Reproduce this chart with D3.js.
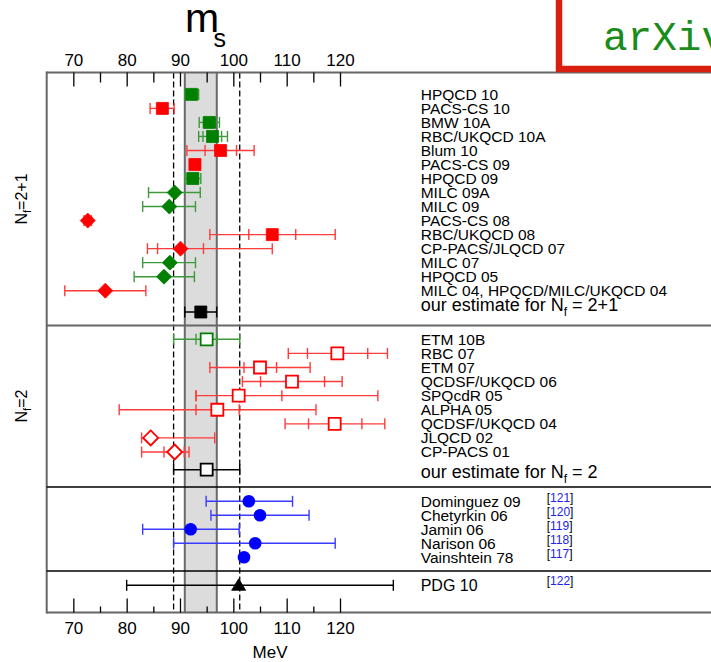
<!DOCTYPE html>
<html>
<head>
<meta charset="utf-8">
<script src="https://cdn.jsdelivr.net/npm/d3@7/dist/d3.min.js"></script>
<style>
body { margin: 0; background: #fff; }
svg { display: block; font-family: "Liberation Sans", Arial, sans-serif; }
</style>
</head>
<body>
<script>
// ---- data (MeV) ----
// N_f = 2+1 lattice results
var nf21Labels = ["HPQCD 10", "PACS-CS 10", "BMW 10A", "RBC/UKQCD 10A", "Blum 10", "PACS-CS 09",
    "HPQCD 09", "MILC 09A", "MILC 09", "PACS-CS 08", "RBC/UKQCD 08", "CP-PACS/JLQCD 07",
    "MILC 07", "HPQCD 05", "MILC 04, HPQCD/MILC/UKQCD 04"];
var nf21Values = [92.2, 86.7, 95.5, 96.1, 97.6, 92.8, 92.4, 89.0, 88.0, 72.7, 107.3, 90.1, 88.1, 87.0, 76.0];
var nf21Inner = [null, null, [94.4, 96.6], [94.3, 97.8], [94.7, 100.6], [92.2, 93.3], [91.4, 93.4], null, null,
    null, [102.9, 111.7], [85.8, 94.4], null, null, null];
var nf21Outer = [[90.9, 93.5], [84.4, 88.9], [93.6, 97.4], [93.5, 98.9], [91.3, 103.9], [91.8, 93.7], [90.9, 93.9],
    [84.1, 93.8], [83.0, 92.9], [72.0, 73.4], [95.6, 119.1], [83.9, 107.3], [83.0, 92.9], [81.4, 92.7], [68.4, 83.6]];
var nf21Flag = ["g", "r", "g", "g", "r", "r", "g", "g", "g", "r", "r", "r", "g", "g", "r"];
var nf21Marker = ["s", "s", "s", "s", "s", "s", "s", "d", "d", "d", "s", "d", "d", "d", "d"];
var est21 = { value: 93.9, range: [90.9, 96.9] };

// N_f = 2 lattice results (open symbols)
var nf2Labels = ["ETM 10B", "RBC 07", "ETM 07", "QCDSF/UKQCD 06", "SPQcdR 05", "ALPHA 05",
    "QCDSF/UKQCD 04", "JLQCD 02", "CP-PACS 01"];
var nf2Values = [95.0, 119.5, 105.0, 111.0, 101.0, 97.0, 119.0, 84.5, 89.0];
var nf2Inner = [[93.0, 97.0], [113.9, 125.2], [102.0, 108.1], [105.1, 117.1], [93.0, 109.1], [93.0, 101.1],
    [114.1, 124.1], null, [87.0, 90.8]];
var nf2Outer = [[88.8, 101.2], [110.3, 128.9], [95.6, 114.4], [101.7, 120.4], [93.0, 127.1], [78.6, 115.5],
    [109.7, 128.4], [82.8, 96.5], [82.8, 91.7]];
var nf2Flag = ["g", "r", "r", "r", "r", "r", "r", "r", "r"];
var nf2Marker = ["s", "s", "s", "s", "s", "s", "s", "d", "d"];
var est2 = { value: 95.0, range: [88.8, 101.2] };

// phenomenology (sum rules)
var phenoLabels = ["Dominguez 09", "Chetyrkin 06", "Jamin 06", "Narison 06", "Vainshtein 78"];
var phenoRefs = ["121", "120", "119", "118", "117"];
var phenoValues = [102.9, 105.0, 92.0, 104.1, 102.0];
var phenoRange = [[94.9, 111.1], [95.8, 114.2], [83.0, 101.1], [88.8, 119.1], null];

// PDG
var pdgLabel = "PDG 10", pdgRef = "122";
var pdgValue = 101.0, pdgRange = [80, 130];

// tick values
var majorTicks = [70, 80, 90, 100, 110, 120];
var minorTicks = [75, 85, 95, 105, 115];

// ---- layout ----
var width = 711, height = 662;
var frameTop = 72.5, frameBottom = 612.5, frameLeft = 46.7;
var sep1 = 325.5, sep2 = 487, sep3 = 571;
var labelX = 420.7, refX = 546.7;

var colors = { g: "#008000", r: "#ff0000", b: "#0000ff", k: "#000000" };
var barColors = { g: "#3c9a3c", r: "#ff3b3b", b: "#3b3bff", k: "#000000" };

var svg = d3.select("body").append("svg")
    .attr("width", width)
    .attr("height", height);

var x = d3.scaleLinear().domain([70, 120]).range([73.33, 340]);

// row position scales for each block
var y21 = d3.scaleLinear().domain([0, 14]).range([94.4, 290.7]);
var y2 = d3.scaleLinear().domain([0, 8]).range([339.3, 452]);
var yPh = d3.scaleLinear().domain([0, 4]).range([501.3, 557.3]);
var est21Y = 312, est2Y = 469.7, pdgY = 585.3;

// estimate band and dashed N_f=2 range
svg.append("rect")
    .attr("x", x(est21.range[0]))
    .attr("y", frameTop)
    .attr("width", x(est21.range[1]) - x(est21.range[0]))
    .attr("height", frameBottom - frameTop)
    .attr("fill", "#dcdcdc");
svg.selectAll(".bandEdge")
    .data(est21.range)
    .enter().append("line")
    .attr("x1", d => x(d)).attr("x2", d => x(d))
    .attr("y1", frameTop).attr("y2", frameBottom)
    .attr("stroke", "#6a6a6a").attr("stroke-width", 2);
svg.selectAll(".dash")
    .data(est2.range)
    .enter().append("line")
    .attr("x1", d => x(d)).attr("x2", d => x(d))
    .attr("y1", frameTop).attr("y2", frameBottom)
    .attr("stroke", "#000").attr("stroke-width", 1.3)
    .attr("stroke-dasharray", "6,3");

// frame and separators
function hline(yy, col, w) {
    svg.append("line")
        .attr("x1", frameLeft).attr("x2", width)
        .attr("y1", yy).attr("y2", yy)
        .attr("stroke", col).attr("stroke-width", w);
}
svg.append("line")
    .attr("x1", frameLeft).attr("x2", frameLeft)
    .attr("y1", frameTop - 1).attr("y2", frameBottom + 1)
    .attr("stroke", "#666").attr("stroke-width", 2);
hline(frameTop, "#666", 2);
hline(sep1, "#666", 2);
hline(sep2, "#000", 1.3);
hline(sep3, "#000", 1.3);
hline(frameBottom, "#666", 2);

// axes, ticks pointing inwards
var topAxis = d3.axisTop(x).tickValues(majorTicks).tickSizeInner(-14).tickSizeOuter(0).tickPadding(7);
var topMinor = d3.axisTop(x).tickValues(minorTicks).tickFormat("").tickSizeInner(-10).tickSizeOuter(0);
var botAxis = d3.axisBottom(x).tickValues(majorTicks).tickSizeInner(-14).tickSizeOuter(0).tickPadding(9.5);
var botMinor = d3.axisBottom(x).tickValues(minorTicks).tickFormat("").tickSizeInner(-6).tickSizeOuter(0);

[[topAxis, frameTop], [topMinor, frameTop], [botAxis, frameBottom], [botMinor, frameBottom]].forEach(function(a) {
    var g = svg.append("g")
        .attr("transform", "translate(0," + a[1] + ")")
        .call(a[0]);
    g.select(".domain").remove();
    g.selectAll("line").attr("stroke", "#000").attr("stroke-width", 1.3);
    g.selectAll("text")
        .attr("font-family", "Liberation Sans, Arial, sans-serif")
        .attr("font-size", 17)
        .attr("fill", "#000");
});

// title and axis label
var title = svg.append("text").attr("x", 185).attr("y", 32.3).attr("font-size", 41);
title.append("tspan").text("m");
svg.append("text").attr("x", 213.5).attr("y", 46.7).attr("font-size", 25).text("s");
svg.append("text")
    .attr("x", 270).attr("y", 658)
    .attr("text-anchor", "middle")
    .attr("font-size", 17)
    .text("MeV");

// rotated block labels
function blockLabel(cy, txt) {
    var t = svg.append("text")
        .attr("transform", "translate(27," + cy + ") rotate(-90)")
        .attr("text-anchor", "middle")
        .attr("font-size", 16);
    t.append("tspan").text("N");
    t.append("tspan").attr("font-size", 11).attr("dy", 4).text("f");
    t.append("tspan").attr("dy", -4).text(txt);
}
blockLabel(199, "=2+1");
blockLabel(406, "=2");

// ---- marks ----
function markerPath(type, cx, cy) {
    if (type === "s") {
        var h = 6;
        return "M" + (cx - h) + "," + (cy - h) + "h" + 2 * h + "v" + 2 * h + "h" + (-2 * h) + "Z";
    }
    if (type === "d") {
        var r = 7.5;
        return "M" + cx + "," + (cy - r) + "L" + (cx + r) + "," + cy + "L" + cx + "," + (cy + r) + "L" + (cx - r) + "," + cy + "Z";
    }
    if (type === "t") {
        return "M" + cx + "," + (cy - 6.5) + "L" + (cx + 7) + "," + (cy + 5) + "L" + (cx - 7) + "," + (cy + 5) + "Z";
    }
}

function errorBar(g, cy, inner, outer, col) {
    var span = outer || inner;
    if (!span) return;
    g.append("line")
        .attr("x1", x(span[0])).attr("x2", x(span[1]))
        .attr("y1", cy).attr("y2", cy)
        .attr("stroke", col).attr("stroke-width", 1.4);
    var caps = [];
    if (outer) caps = caps.concat(outer);
    if (inner) caps = caps.concat(inner);
    caps.forEach(function(c) {
        g.append("line")
            .attr("x1", x(c)).attr("x2", x(c))
            .attr("y1", cy - 5.5).attr("y2", cy + 5.5)
            .attr("stroke", col).attr("stroke-width", 1.4);
    });
}

function drawPoint(cy, value, inner, outer, flag, marker, open) {
    var g = svg.append("g");
    errorBar(g, cy, inner, outer, barColors[flag]);
    if (marker === "c") {
        g.append("circle").attr("cx", x(value)).attr("cy", cy).attr("r", 6.3).attr("fill", colors[flag]);
        return;
    }
    g.append("path")
        .attr("d", markerPath(marker, x(value), cy))
        .attr("fill", open ? "#fff" : colors[flag])
        .attr("stroke", colors[flag])
        .attr("stroke-width", open ? 1.8 : 0.8);
}

function label(cy, txt, size) {
    return svg.append("text")
        .attr("x", labelX).attr("y", cy).attr("dy", "0.35em")
        .attr("font-size", size || 15.5)
        .text(txt);
}

function estimateLabel(cy, txt) {
    var t = svg.append("text")
        .attr("x", labelX).attr("y", cy).attr("dy", "0.35em")
        .attr("font-size", 18);
    t.append("tspan").text("our estimate for N");
    t.append("tspan").attr("font-size", 12).attr("dy", 5).text("f");
    t.append("tspan").attr("dy", -5).text(" = " + txt);
}

function refLabel(cy, num) {
    var t = svg.append("text")
        .attr("x", refX).attr("y", cy).attr("dy", "0.2em")
        .attr("font-size", 12);
    t.append("tspan").text("[");
    t.append("tspan").attr("fill", "#2222ee").text(num);
    t.append("tspan").text("]");
}

// N_f = 2+1
nf21Labels.forEach(function(d, i) {
    drawPoint(y21(i), nf21Values[i], nf21Inner[i], nf21Outer[i], nf21Flag[i], nf21Marker[i], false);
    label(y21(i), d);
});
drawPoint(est21Y, est21.value, null, est21.range, "k", "s", false);
estimateLabel(est21Y - 7, "2+1");

// N_f = 2
nf2Labels.forEach(function(d, i) {
    drawPoint(y2(i), nf2Values[i], nf2Inner[i], nf2Outer[i], nf2Flag[i], nf2Marker[i], true);
    label(y2(i), d);
});
drawPoint(est2Y, est2.value, null, est2.range, "k", "s", true);
estimateLabel(est2Y + 2, "2");

// phenomenology
phenoLabels.forEach(function(d, i) {
    drawPoint(yPh(i), phenoValues[i], null, phenoRange[i], "b", "c", false);
    label(yPh(i), d);
    refLabel(yPh(i) - 1.5, phenoRefs[i]);
});

// PDG
drawPoint(pdgY, pdgValue, null, pdgRange, "k", "t", false);
label(pdgY, pdgLabel, 16);
refLabel(pdgY - 3, pdgRef);

// arXiv stamp box in the corner
svg.append("rect")
    .attr("x", 559).attr("y", -20)
    .attr("width", 200).attr("height", 89)
    .attr("fill", "#fff")
    .attr("stroke", "#d92010")
    .attr("stroke-width", 6.5);
svg.append("text")
    .attr("x", 603).attr("y", 50)
    .attr("font-family", "Liberation Mono, Courier New, monospace")
    .attr("font-size", 41)
    .attr("fill", "#1a8c1a")
    .text("arXiv");
</script>
</body>
</html>
